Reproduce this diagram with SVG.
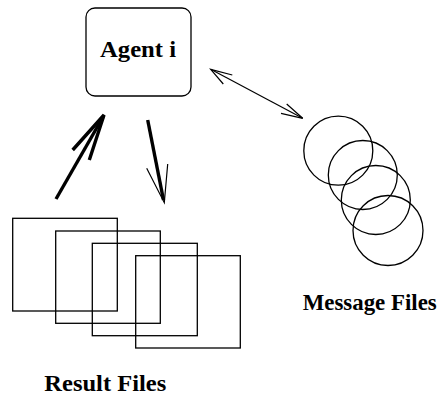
<svg xmlns="http://www.w3.org/2000/svg" width="446" height="395" viewBox="0 0 446 395">
<style>
.shape{fill:none;stroke:#000;stroke-width:1.3}
.lbl{font-family:"Liberation Serif","Times New Roman",serif;font-weight:bold;font-size:23.5px;fill:#000;text-anchor:middle}
.thick{fill:none;stroke:#000;stroke-width:3.4;stroke-linejoin:miter}
.thin{fill:none;stroke:#000;stroke-width:1.2}
</style>
<rect width="446" height="395" fill="#fff"/>
<g id="agent">
<rect class="shape" x="86" y="8" width="105" height="88" rx="9"/>
<text class="lbl" x="138" y="57.3" textLength="76" lengthAdjust="spacingAndGlyphs">Agent i</text>
</g>
<g id="result-files">
<rect class="shape" x="12.7" y="218.3" width="104.6" height="92.7"/>
<rect class="shape" x="55.7" y="231" width="104.6" height="92.3"/>
<rect class="shape" x="92.3" y="243.3" width="105" height="92.4"/>
<rect class="shape" x="135.7" y="255.7" width="104.6" height="92.3"/>
<text class="lbl" x="105.3" y="391" textLength="122" lengthAdjust="spacingAndGlyphs">Result Files</text>
</g>
<g id="message-files">
<circle class="shape" cx="338.3" cy="150.7" r="34.5"/>
<circle class="shape" cx="362.8" cy="175" r="34.5"/>
<circle class="shape" cx="375.8" cy="200" r="34.5"/>
<circle class="shape" cx="388" cy="230.5" r="35"/>
<text class="lbl" x="369.7" y="310" textLength="134" lengthAdjust="spacingAndGlyphs">Message Files</text>
</g>
<g id="connectors">
<path class="thick" d="M56,199 L103,117"/>
<path class="thick" d="M72.7,150 L104,115 L89.3,160"/>
<path class="thick" d="M147.7,120 L163.5,200"/>
<path class="thin" stroke-width="1.6" d="M146.7,168.3 L164.3,202.7 L167.7,164"/>
<path class="thin" d="M210.7,69.3 L302.7,118.3"/>
<path class="thin" d="M232.3,75 L210.7,69.3 L223.3,84"/>
<path class="thin" d="M286.7,104 L302.7,118.3 L281,113.3"/>
</g>
</svg>
